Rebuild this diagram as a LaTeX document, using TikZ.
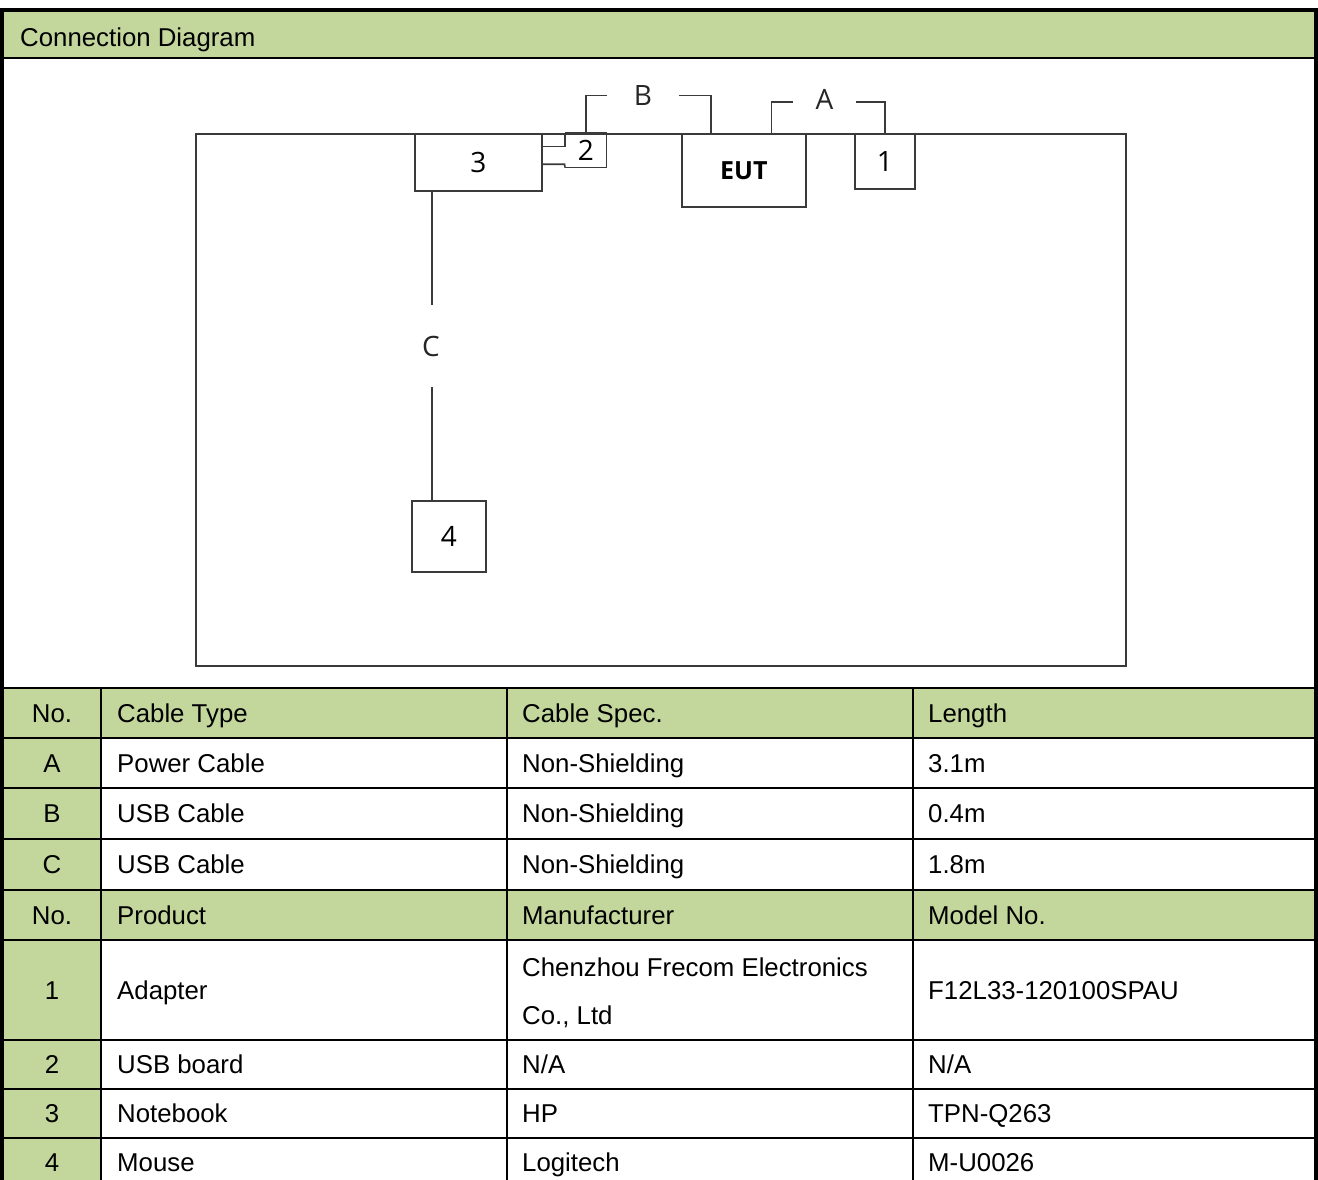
\documentclass[tikz,border=0pt]{standalone}
\usepackage{fontspec}
\newfontfamily\tabfont{Liberation Sans}
\newfontfamily\diafont{Open Sans}
\definecolor{hdrgreen}{HTML}{C3D69B}
\definecolor{wiregray}{HTML}{3A3A3A}
\begin{document}
\begin{tikzpicture}[x=1pt,y=-1pt,
  tline/.style={line width=2.2pt,black},
  oline/.style={line width=3.6pt,black},
  wire/.style={line width=1.6pt,wiregray},
  devbox/.style={draw=wiregray,line width=1.6pt,anchor=north west,inner sep=0pt,
     font=\diafont\fontsize{28}{30}\selectfont},
  cablab/.style={inner sep=0pt,font=\diafont\fontsize{28}{30}\selectfont,text=black!85},
  celltxt/.style={anchor=base west,inner sep=0pt,font=\tabfont\fontsize{25.8}{30}\selectfont},
  numtxt/.style={anchor=base,inner sep=0pt,font=\tabfont\fontsize{25.8}{30}\selectfont}]
\useasboundingbox (0,0) rectangle (1318,1180);
% fills
\fill[hdrgreen] (2,10) rectangle (1316,58);
\fill[hdrgreen] (2,688) rectangle (1316,738);
\fill[hdrgreen] (2,738) rectangle (101,890);
\fill[hdrgreen] (2,890) rectangle (1316,940);
\fill[hdrgreen] (2,940) rectangle (101,1180);
% table lines
\foreach \yy in {58,688,738,788,839,890,940,1040,1089,1138}
  \draw[tline] (2,\yy) -- (1316,\yy);
\foreach \xx in {101,507,913}
  \draw[tline] (\xx,688) -- (\xx,1180);
\draw[oline] (2,1180) -- (2,10) -- (1316,10) -- (1316,1180);
% title
\node[celltxt] (title) at (20,47) {Connection Diagram};
% diagram
\node[devbox,minimum width=930pt,minimum height=532pt] (tabletop) at (195,133) {};
\node[devbox,minimum width=127pt,minimum height=57pt] (box3) at (414,133) {3};
\node[devbox,draw=none,minimum width=40pt,minimum height=33pt] (box2) at (565,133) {2};
\node[devbox,minimum width=124pt,minimum height=73pt,font=\diafont\bfseries\fontsize{25}{28}\selectfont] (eut) at (681,133) {EUT};
\node[devbox,minimum width=60pt,minimum height=55pt] (box1) at (854,133) {1};
\node[devbox,minimum width=74pt,minimum height=71pt] (box4) at (411,500) {4};
\draw[wire] (box2.north west) -- (box2.north east) -- (box2.south east) -- (box2.south west);
\draw[wire] ([yshift=-13.7pt]box3.north east) -| (box2.north west);
\draw[wire] ([yshift=-31.3pt]box3.north east) -- ++(22,0) -- (box2.south west);
% cable B
\node[cablab,minimum width=72pt] (labB) at (643,95.5) {B};
\draw[wire] (box2.north) |- (labB.west);
\draw[wire] (labB.east) -| ([xshift=30pt]eut.north west);
% cable A
\node[cablab,minimum width=63pt] (labA) at (824.5,99) {A};
\draw[wire] ([xshift=-35pt]eut.north east) |- ([yshift=-3pt]labA.west);
\draw[wire] ([yshift=-3pt]labA.east) -| (box1.north);
% cable C
\node[cablab,minimum height=82pt] (labC) at (431,346) {C};
\draw[wire] ([xshift=18pt]box3.south west) -- ([xshift=1pt]labC.north);
\draw[wire] ([xshift=1pt]labC.south) -- ([xshift=21pt]box4.north west);
% table rows
\foreach \yc/\na/\nb/\nc/\nd [count=\i] in {
  713/No./Cable Type/Cable Spec./Length,
  763/A/Power Cable/Non-Shielding/3.1m,
  813.5/B/USB Cable/Non-Shielding/0.4m,
  864.5/C/USB Cable/Non-Shielding/1.8m,
  915/No./Product/Manufacturer/Model No.,
  1064.5/2/USB board/N\slash A/N\slash A,
  1113.5/3/Notebook/HP/TPN-Q263,
  1162.5/4/Mouse/Logitech/M-U0026}{
  \node[numtxt] (r\i a) at (52,\yc+9.3) {\na};
  \node[celltxt] (r\i b) at (117,\yc+9.3) {\nb};
  \node[celltxt] (r\i c) at (522,\yc+9.3) {\nc};
  \node[celltxt] (r\i d) at (928,\yc+9.3) {\nd};
}
\node[numtxt] (p1a) at (52,999.3) {1};
\node[celltxt] (p1b) at (117,999.3) {Adapter};
\node[celltxt] (p1c) at (522,976.3) {Chenzhou Frecom Electronics};
\node[celltxt] (p1e) at (522,1024.3) {Co., Ltd};
\node[celltxt] (p1d) at (928,999.3) {F12L33-120100SPAU};
\end{tikzpicture}
\end{document}
